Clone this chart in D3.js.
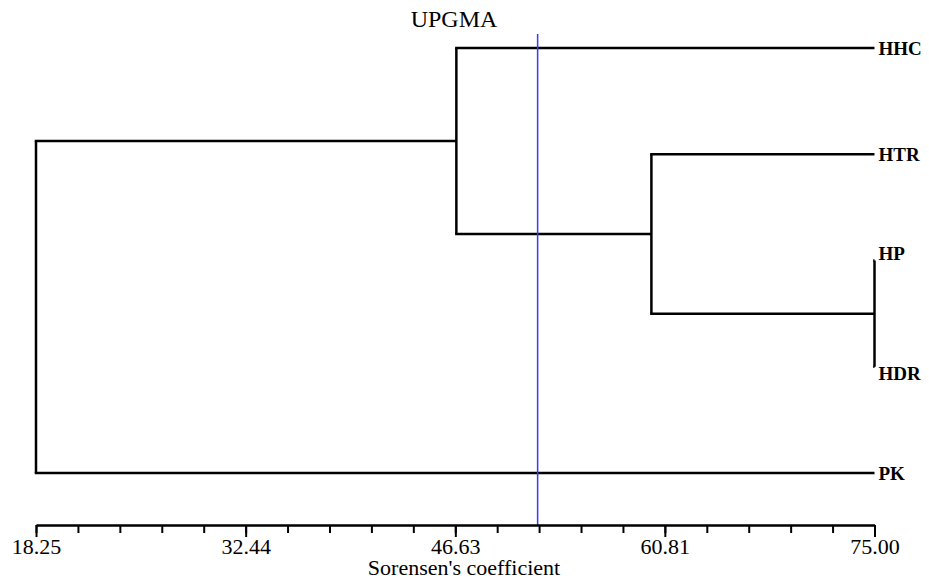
<!DOCTYPE html>
<html>
<head>
    <meta charset="utf-8">
    <script src="https://cdn.jsdelivr.net/npm/d3@7"></script>
    <style>
        body { margin: 0; background: #fff; }
        svg text { font-family: "Liberation Serif", "Times New Roman", serif; fill: #000; }
    </style>
</head>
<body>
<script>
    // leaves, top to bottom
    var leaves = ["HHC", "HTR", "HP", "HDR", "PK"];
    // linkage: each merge joins left + right at a similarity level
    var mergeLeft = ["HP", "HTR", "HHC", "n3"];
    var mergeRight = ["HDR", "n1", "n2", "PK"];
    var mergeLevel = [75.00, 59.9, 46.7, 18.25];
    var cutLevel = 52.2;
    var majorTicks = [18.25, 32.44, 46.63, 60.81, 75.00];

    var w = 929, h = 580;
    var svg = d3.select("body").append("svg")
        .attr("width", w)
        .attr("height", h);

    var x = d3.scaleLinear().domain([18.25, 75.00]).range([36, 874.5]);
    var y = d3.scalePoint().domain(leaves).range([48, 473]);

    // build nodes from linkage
    var nodes = {};
    leaves.forEach(function (l) { nodes[l] = { name: l, level: 75.00, y: y(l), leaf: true, shift: 0 }; });
    mergeLevel.forEach(function (lv, i) {
        var a = nodes[mergeLeft[i]], b = nodes[mergeRight[i]];
        // zero length branches: push labels away from the joint
        if (a.leaf && b.leaf && a.level == lv && b.level == lv) { a.shift = -7; b.shift = 7; }
        nodes["n" + (i + 1)] = { name: "n" + (i + 1), level: lv, y: (a.y + b.y) / 2, kids: [a, b] };
    });

    var g = svg.append("g");
    Object.values(nodes).forEach(function (n) {
        if (!n.kids) return;
        // vertical
        g.append("line")
            .attr("x1", x(n.level)).attr("x2", x(n.level))
            .attr("y1", n.kids[0].y).attr("y2", n.kids[1].y)
            .attr("stroke", "#000").attr("stroke-width", 2.5);
        // horizontals to children
        n.kids.forEach(function (k) {
            g.append("line")
                .attr("x1", x(n.level) - 1.25).attr("x2", x(k.level))
                .attr("y1", k.y).attr("y2", k.y)
                .attr("stroke", "#000").attr("stroke-width", 2.5);
        });
    });

    // leaf labels
    g.selectAll(".leaf")
        .data(leaves)
        .enter()
        .append("text")
        .attr("x", function (d) { return x(nodes[d].level) + 4; })
        .attr("y", function (d) { return y(d) + nodes[d].shift; })
        .attr("dy", "0.35em")
        .style("font-size", "19px")
        .style("font-weight", "bold")
        .text(function (d) { return d; });

    // cut line
    svg.append("line")
        .attr("x1", x(cutLevel)).attr("x2", x(cutLevel))
        .attr("y1", 34).attr("y2", 525)
        .attr("stroke", "#3a3aff").attr("stroke-width", 1.5);

    // minor ticks
    var minor = d3.range(0, 21).map(function (i) { return 18.25 + i * (75.00 - 18.25) / 20; });
    svg.append("g")
        .attr("transform", "translate(0,525)")
        .call(d3.axisBottom(x).tickValues(minor).tickSize(8).tickSizeOuter(0).tickFormat(""))
        .call(function (s) {
            s.selectAll("line, path").attr("stroke", "#000").attr("stroke-width", 2);
        });

    // major ticks
    svg.append("g")
        .attr("transform", "translate(0,525)")
        .call(d3.axisBottom(x).tickValues(majorTicks).tickSize(12).tickSizeOuter(0).tickPadding(1).tickFormat(d3.format(".2f")))
        .call(function (s) {
            s.attr("font-family", null);
            s.selectAll("line, path").attr("stroke", "#000").attr("stroke-width", 2);
            s.selectAll("text").style("font-size", "22px");
        });

    svg.append("text")
        .attr("x", 464)
        .attr("y", 575)
        .attr("text-anchor", "middle")
        .style("font-size", "22px")
        .text("Sorensen's coefficient");

    svg.append("text")
        .attr("x", 454)
        .attr("y", 27)
        .attr("text-anchor", "middle")
        .style("font-size", "24px")
        .text("UPGMA");
</script>
</body>
</html>
